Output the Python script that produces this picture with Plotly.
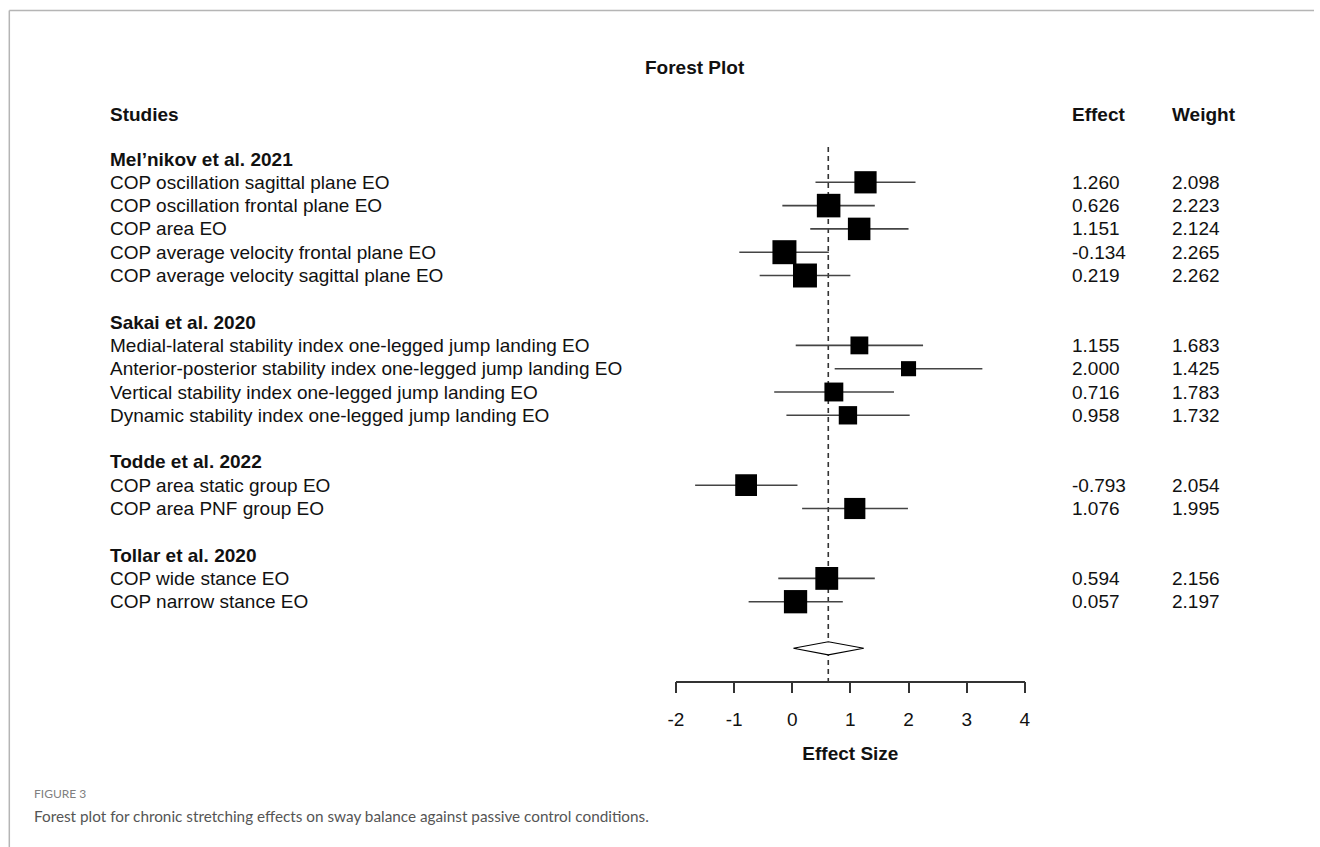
import plotly.graph_objects as go

# ---------------- data ----------------
groups = ["Mel\u2019nikov et al. 2021", "Sakai et al. 2020", "Todde et al. 2022", "Tollar et al. 2020"]
group_sizes = [5, 4, 2, 2]
outcomes = [
    "COP oscillation sagittal plane EO",
    "COP oscillation frontal plane EO",
    "COP area EO",
    "COP average velocity frontal plane EO",
    "COP average velocity sagittal plane EO",
    "Medial-lateral stability index one-legged jump landing EO",
    "Anterior-posterior stability index one-legged jump landing EO",
    "Vertical stability index one-legged jump landing EO",
    "Dynamic stability index one-legged jump landing EO",
    "COP area static group EO",
    "COP area PNF group EO",
    "COP wide stance EO",
    "COP narrow stance EO",
]
effects = [1.260, 0.626, 1.151, -0.134, 0.219, 1.155, 2.000, 0.716, 0.958, -0.793, 1.076, 0.594, 0.057]
ci_low = [0.40, -0.17, 0.31, -0.91, -0.56, 0.06, 0.73, -0.31, -0.10, -1.67, 0.17, -0.24, -0.75]
ci_high = [2.12, 1.42, 2.00, 0.63, 1.00, 2.25, 3.27, 1.75, 2.02, 0.09, 1.99, 1.42, 0.87]
weights = [2.098, 2.223, 2.124, 2.265, 2.262, 1.683, 1.425, 1.783, 1.732, 2.054, 1.995, 2.156, 2.197]
summary_est = 0.62
summary_low = 0.02
summary_high = 1.23
x_ticks = [-2, -1, 0, 1, 2, 3, 4]

# ---------------- layout helpers ----------------
W, H = 1320, 847
# horizontal calibration of the viewer (observed: shown_x = 8 + 0.9886 * layout_x)
CAL_OFF, CAL_SCALE = 8.0, 0.9886
def fx(x_px):
    """paper fraction for a target horizontal pixel position"""
    return ((x_px - CAL_OFF) / CAL_SCALE) / W

ROW0_PX = 182.3     # pixel y of first study row
ROW_PX = 23.3       # pixels per row
def px2row(py):
    return (py - ROW0_PX) / ROW_PX

FONT = "Liberation Sans, Arial, Helvetica, sans-serif"
FS = 19

group_rows = []
study_rows = []
r = -1
for g, n in zip(groups, group_sizes):
    group_rows.append(r)
    for k in range(n):
        study_rows.append(r + 1 + k)
    r = r + n + 2
summary_row = study_rows[-1] + 2

fig = go.Figure()

# dashed line at summary estimate
fig.add_trace(go.Scatter(
    x=[summary_est, summary_est], y=[px2row(147), px2row(681.7)],
    mode="lines", line=dict(color="#333333", width=1.6, dash="5px,4px"),
    hoverinfo="skip", showlegend=False))

# confidence intervals
for lo, hi, yr in zip(ci_low, ci_high, study_rows):
    fig.add_trace(go.Scatter(
        x=[lo, hi], y=[yr, yr], mode="lines",
        line=dict(color="#444444", width=1.6),
        hoverinfo="skip", showlegend=False))

# squares sized by weight
fig.add_trace(go.Scatter(
    x=effects, y=study_rows, mode="markers",
    marker=dict(symbol="square", color="black", opacity=1,
                size=[w * 10.6 for w in weights], line=dict(width=0)),
    showlegend=False))

# summary diamond
h = 0.28
fig.add_trace(go.Scatter(
    x=[summary_low, summary_est, summary_high, summary_est, summary_low],
    y=[summary_row, summary_row - h, summary_row, summary_row + h, summary_row],
    mode="lines", fill="toself", fillcolor="white",
    line=dict(color="black", width=1.1), hoverinfo="skip", showlegend=False))

ann = []
def text(x_px, row, s, bold=False, anchor="left", size=FS, color="#111111"):
    ann.append(dict(x=fx(x_px), xref="paper", y=row, yref="y",
                    text=f"<b>{s}</b>" if bold else s, showarrow=False,
                    xanchor=anchor, yanchor="middle", borderpad=0,
                    font=dict(family=FONT, size=size, color=color)))

X_LAB, X_EFF, X_WT = 109, 1070.5, 1170.5
text(694.5, px2row(67), "Forest Plot", bold=True, anchor="center")
text(X_LAB, px2row(114), "Studies", bold=True)
text(X_EFF, px2row(114), "Effect", bold=True)
text(X_WT, px2row(114), "Weight", bold=True)
for g, gr in zip(groups, group_rows):
    text(X_LAB, gr, g, bold=True)
for o, e, w, yr in zip(outcomes, effects, weights, study_rows):
    text(X_LAB, yr, o)
    text(X_EFF, yr, f"{e:.3f}")
    text(X_WT, yr, f"{w:.3f}")

# caption
ann.append(dict(x=fx(33), xref="paper", y=1 - 793 / H, yref="paper", text="FIGURE 3",
                showarrow=False, xanchor="left", yanchor="middle", borderpad=0,
                font=dict(family="Lato, Open Sans, sans-serif", size=12, color="#808080")))
ann.append(dict(x=fx(33), xref="paper", y=1 - 816 / H, yref="paper",
                text="Forest plot for chronic stretching effects on sway balance against passive control conditions.",
                showarrow=False, xanchor="left", yanchor="middle", borderpad=0,
                font=dict(family="Lato, Open Sans, sans-serif", size=15.3, color="#555555")))

shapes = [
    dict(type="line", xref="paper", yref="paper", x0=fx(9.3), x1=1, y0=1 - 10.5 / H, y1=1 - 10.5 / H,
         line=dict(color="#b5b5b5", width=1.5)),
    dict(type="line", xref="paper", yref="paper", x0=fx(9.3), x1=fx(9.3), y0=1 - 10.5 / H, y1=0,
         line=dict(color="#b5b5b5", width=1.5)),
]

fig.update_layout(
    width=W, height=H, margin=dict(l=0, r=0, t=0, b=0),
    paper_bgcolor="white", plot_bgcolor="rgba(0,0,0,0)",
    annotations=ann, shapes=shapes, showlegend=False,
    xaxis=dict(domain=[fx(675.4), fx(1024)], range=[-2, 4], anchor="free",
               position=1 - 681.7 / H, showline=True, linecolor="#333333", linewidth=1.5,
               ticks="outside", ticklen=11, tickwidth=1.5, tickcolor="#333333",
               tickvals=x_ticks, ticktext=[str(t) for t in x_ticks],
               tickfont=dict(family=FONT, size=FS, color="#111111"), ticklabelstandoff=10,
               showgrid=False, zeroline=False,
               title=dict(text="<b>Effect Size</b>", font=dict(family=FONT, size=FS, color="#111111"),
                          standoff=16)),
    yaxis=dict(domain=[0, 1], range=[px2row(H), px2row(0)], visible=False,
               showgrid=False, zeroline=False),
)

fig.write_html("out.html", config={"displayModeBar": False},
               post_script="document.body.style.margin='0';document.body.style.overflow='hidden';")
